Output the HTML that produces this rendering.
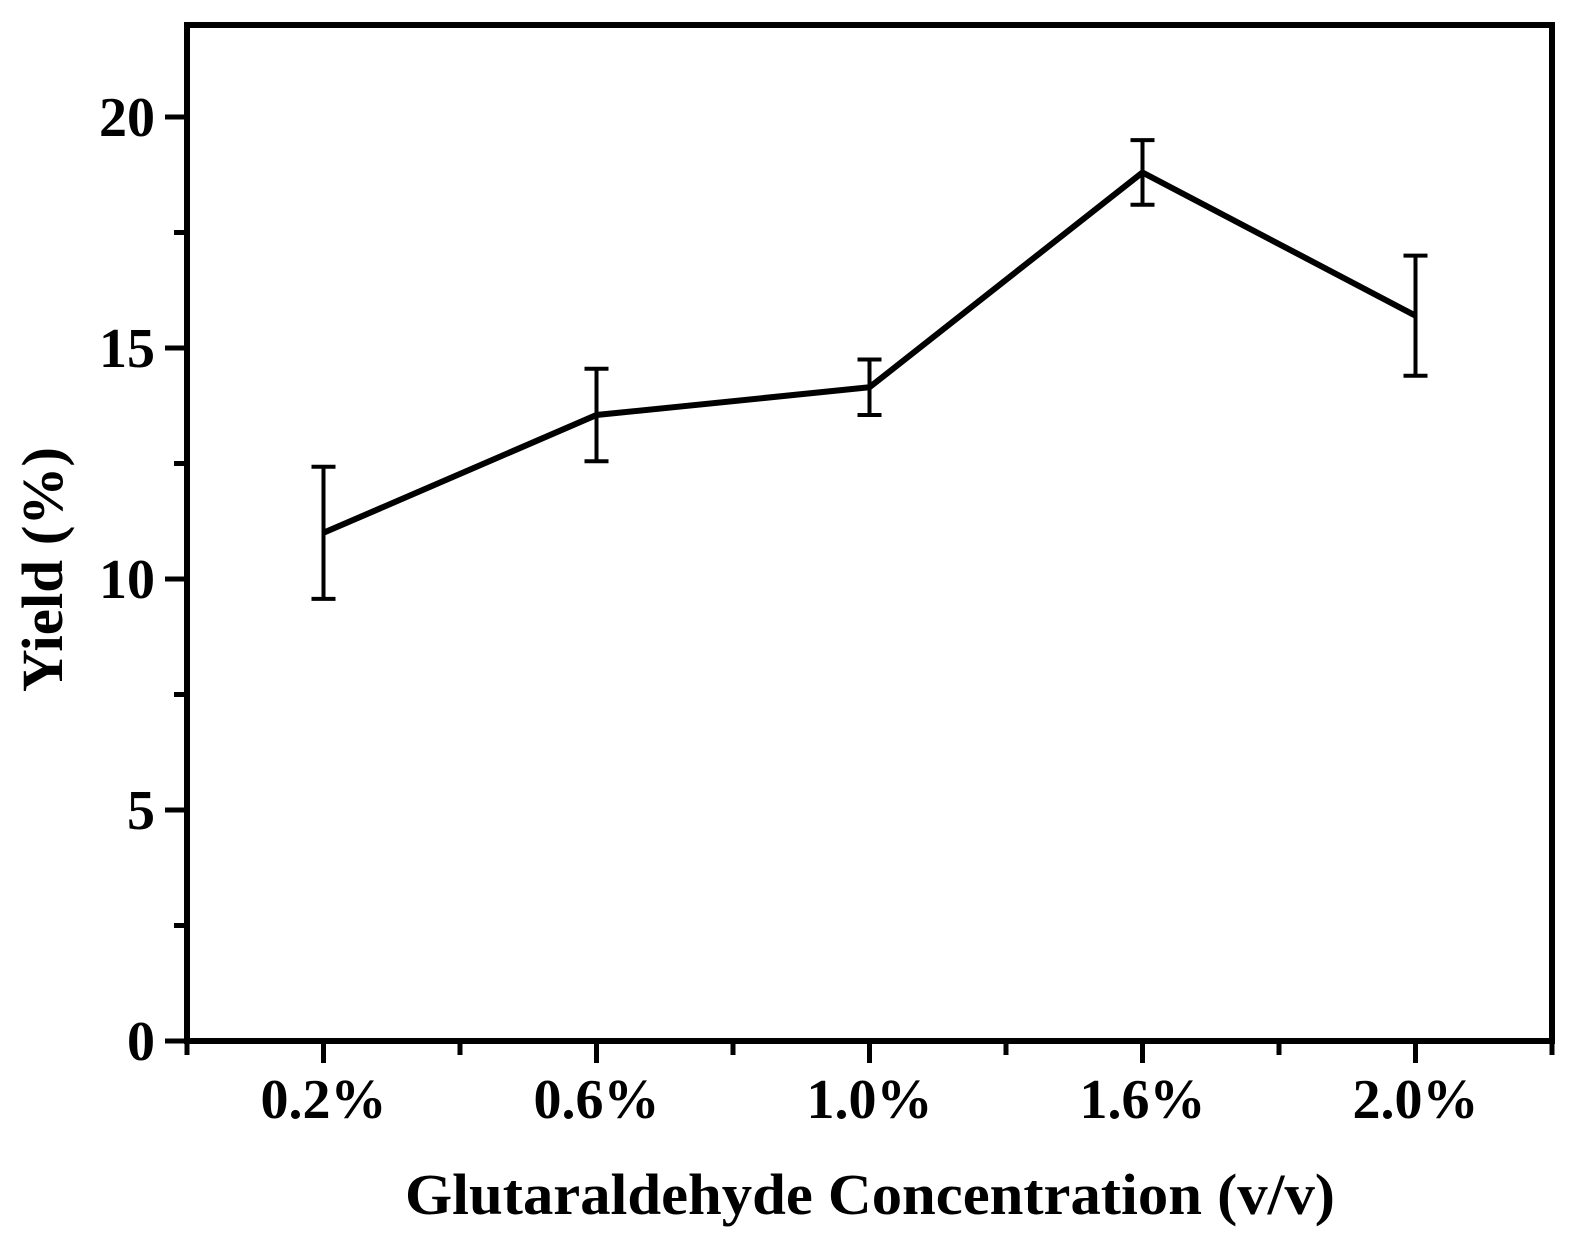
<!DOCTYPE html>
<html><head><meta charset="utf-8"><style>
body{margin:0;background:#fff}
svg{display:block}
text{font-family:"Liberation Serif",serif;font-weight:bold;fill:#000}
</style></head><body>
<svg id="chart" width="1574" height="1257" viewBox="0 0 1574 1257" xmlns="http://www.w3.org/2000/svg">
<g id="plot"></g>
</svg>
<script>
const categories = ["0.2%","0.6%","1.0%","1.6%","2.0%"];
const yieldValues = [11.0,13.55,14.15,18.8,15.7];
const yieldErrors = [1.43,1.0,0.6,0.7,1.3];
const yTickValues = [0,5,10,15,20];
const yMinorValues = [2.5,7.5,12.5,17.5];

const L=187,R=1552,T=25,B=1041;
const y0px=1041,y20px=117;
function yScale(v){return y0px-(v)*(y0px-y20px)/20;}
const step=(R-L)/categories.length;
function xScale(i){return L+step*(i+0.5);}
const g=document.getElementById('plot');
const NS="http://www.w3.org/2000/svg";
function mk(tag,attrs){const e=document.createElementNS(NS,tag);for(const k in attrs)e.setAttribute(k,attrs[k]);g.appendChild(e);return e;}

let fr=mk('rect',{x:L,y:T,width:R-L,height:B-T,fill:'none',stroke:'#000','stroke-width':6});



yTickValues.forEach(v=>{
  const y=yScale(v);
  let t=mk('line',{x1:L-22,x2:L,y1:y,y2:y,stroke:'#000','stroke-width':5});
  
  
  let lb=mk('text',{x:L-32,y:y+19,'text-anchor':'end','font-size':56});
  lb.textContent=v;
  
  
});
yMinorValues.forEach(v=>{
  const y=yScale(v);
  let t=mk('line',{x1:L-13,x2:L,y1:y,y2:y,stroke:'#000','stroke-width':5});
  
  
});
categories.forEach((c,i)=>{
  const x=xScale(i);
  let t=mk('line',{x1:x,x2:x,y1:B,y2:B+22,stroke:'#000','stroke-width':5});
  
  
  let lb=mk('text',{x:x,y:1118,'text-anchor':'middle','font-size':56});
  lb.textContent=c;
  
  
});
for(let i=0;i<=categories.length;i++){
  const x=L+step*i;
  let t=mk('line',{x1:x,x2:x,y1:B,y2:B+14,stroke:'#000','stroke-width':5});
  
  
}
let pts=yieldValues.map((v,i)=>xScale(i)+','+yScale(v)).join(' ');
let pl=mk('polyline',{points:pts,fill:'none',stroke:'#000','stroke-width':6,'stroke-linejoin':'miter'});


yieldValues.forEach((v,i)=>{
  const x=xScale(i),yt=yScale(v+yieldErrors[i]),yb=yScale(v-yieldErrors[i]);
  let e=mk('path',{d:`M${x},${yt}V${yb}M${x-12},${yt}H${x+12}M${x-12},${yb}H${x+12}`,stroke:'#000','stroke-width':4,fill:'none'});
  
  
});
let xt=mk('text',{x:405,y:1214,'font-size':58,textLength:930,lengthAdjust:'spacingAndGlyphs'});
xt.textContent='Glutaraldehyde Concentration (v/v)';


let yt=mk('text',{x:0,y:0,'font-size':58,textLength:245,lengthAdjust:'spacingAndGlyphs',transform:'translate(62,692) rotate(-90)'});
yt.textContent='Yield (%)';


</script>
</body></html>
